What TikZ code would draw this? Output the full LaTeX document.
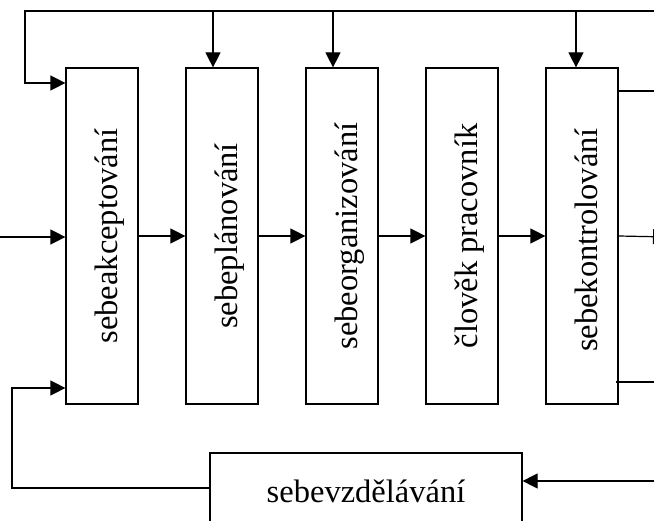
\documentclass[tikz,border=0pt]{standalone}
\usepackage{fontspec}
\setmainfont{Liberation Serif}
\usetikzlibrary{arrows.meta}
\newcommand{\svisle}[1]{\rotatebox{90}{\raisebox{0pt}[30pt][0pt]{#1}}}
\tikzset{
  cara/.style={line width=1.2pt},
  sipka/.style={cara, -{Triangle[length=15pt,width=15pt]}},
  blok/.style={draw, cara, minimum width=72pt, minimum height=336pt, inner sep=0pt},
  dolni/.style={draw, cara, minimum width=312pt, minimum height=76pt, inner sep=0pt}
}
\begin{document}
\begin{tikzpicture}[x=1pt, y=-1pt, font=\fontsize{32.5}{38}\selectfont]
    \clip (0,0) rectangle (654,521);  %okraje
    \foreach \jm/\x/\txt in
    {
      b1/102/sebeakceptování,
      b2/222/sebeplánování,
      b3/342/sebeorganizování,
      b4/462/člověk pracovník,
      b5/582/sebekontrolování
    }
    {
      \node[blok] (\jm) at (\x,236) {\svisle{\txt}};
    };
    \node[dolni] (b6) at (366,491) {sebevzdělávání};  %spodni blok
    % horni zpetna vazba
    \coordinate (lh) at (25,11);
    \coordinate (ph) at (654,11);
    \draw[sipka] (ph) -- (lh) |- (b1.west |- 0,83);
    \foreach \b/\x in {b2/213, b3/333, b5/576}
    {
      \draw[sipka] (\x,11) -- (\x,0 |- \b.north);
    };
    % hlavni retez
    \coordinate (vstup) at (0,237);
    \coordinate (vystup) at (668,237);
    \draw[sipka] (vstup) -- (vstup -| b1.west);
    \foreach \a/\b in {b1/b2, b2/b3, b3/b4, b4/b5}
    {
      \draw[sipka] (\a.east) -- (\b.west);
    };
    \draw[sipka] (b5.east) -- (vystup);
    % vystupy vpravo
    \draw[cara] (b5.east |- 0,91) -- (654,91);
    \draw[cara] ([xshift=-3pt]b5.east |- 0,382) -- (654,382);
    % spodni zpetna vazba
    \coordinate (pd) at (654,481);
    \coordinate (ld) at (12,488);
    \draw[sipka] (pd) -- (pd -| b6.east);
    \draw[sipka] (b6.west |- ld) -- (ld) |- (b1.west |- 0,388);
\end{tikzpicture}
\end{document}
